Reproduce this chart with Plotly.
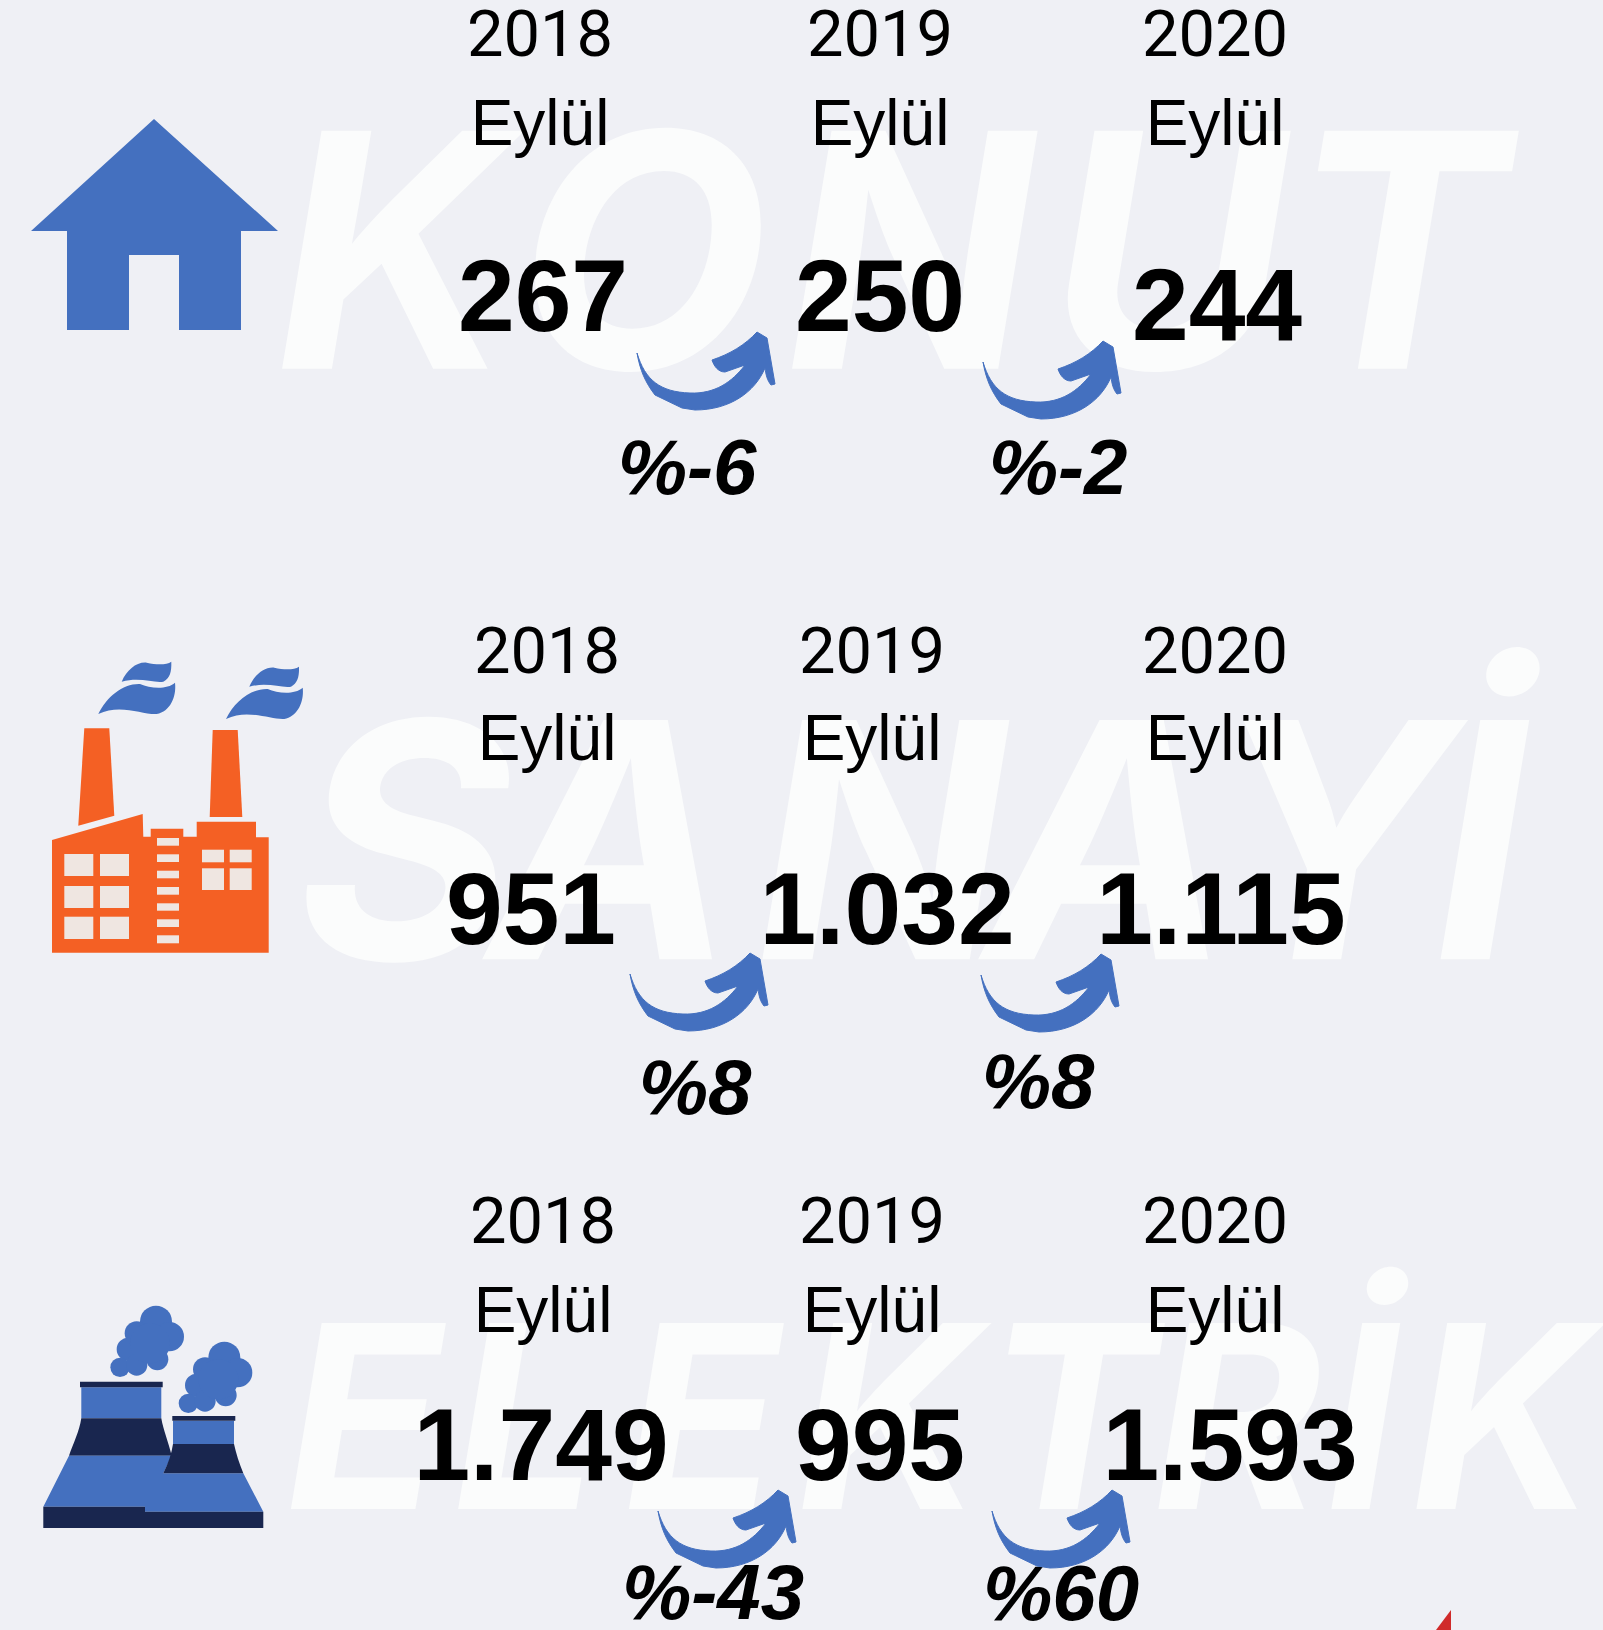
import re
import plotly.graph_objects as go

W, H = 1603, 1630
# ---- content ----
sector_labels = ["KONUT", "SANAYİ", "ELEKTRİK"]
years = ["2018", "2019", "2020"]
month = "Eylül"
konut_values = ["267", "250", "244"]
sanayi_values = ["951", "1.032", "1.115"]
elektrik_values = ["1.749", "995", "1.593"]
konut_change = ["%-6", "%-2"]
sanayi_change = ["%8", "%8"]
elektrik_change = ["%-43", "%60"]

# ---- layout positions (pixels) ----
BLUE, ORANGE, NAVY, CREAM = "#4470bf", "#f46024", "#19264f", "#efe6e1"
letter_x = [[393, 643, 910, 1168, 1397],
            [404, 612, 881, 1108, 1331, 1480],
            [364, 525, 702, 889, 1070, 1237, 1362, 1503]]
word_y = [287, 877, 1445]
word_size = [327, 329, 255]
year_x = [[540, 880, 1215], [547, 872, 1215], [543, 872, 1215]]
year_y = [40, 657, 1227]
month_y = [129, 744, 1316]
value_x = [[543, 880, 1217], [531, 887, 1221], [541, 880, 1230]]
value_y = [[305, 305, 314], [918, 918, 918], [1454, 1454, 1454]]
change_x = [[687, 1058], [695, 1038], [713, 1061]]
change_y = [[474, 474], [1094, 1088], [1599, 1600]]
arrow_origin = [(620, 320), (966, 329), (613, 941), (964, 942), (641, 1478), (975, 1478)]


def tf(path, ox, oy, sx=1 / 3, sy=1 / 3):
    def rep(m):
        return f"{ox + float(m.group(1)) * sx:.1f},{oy + float(m.group(2)) * sy:.1f}"
    return re.sub(r"(-?\d+\.?\d*),(-?\d+\.?\d*)", rep, path)


shapes = []


def add(path, color, ox=0, oy=0, sx=1.0, sy=1.0, lw=0):
    shapes.append(dict(type="path", path=tf(path, ox, oy, sx, sy), fillcolor=color,
                       line=dict(width=lw, color=color), layer="above", xref="x", yref="y"))


def rect(x0, y0, x1, y1, color, ox, oy):
    add(f"M{x0},{y0} L{x1},{y0} L{x1},{y1} L{x0},{y1} Z", color, ox, oy, 1 / 3, 1 / 3)


def circ(cx, cy, r, color, ox, oy):
    shapes.append(dict(type="circle", x0=ox + (cx - r) / 3, x1=ox + (cx + r) / 3,
                       y0=oy + (cy - r) / 3, y1=oy + (cy + r) / 3, fillcolor=color,
                       line=dict(width=0), layer="above", xref="x", yref="y"))


# house
add("M154,119 L278,231 L241,231 L241,330 L179,330 L179,255 L129,255 L129,330 L67,330 L67,231 L31,231 Z", BLUE)

# factory
fx, fy = 30, 640
add("M66,600 L338,522 L340,590 L362,590 L362,566 L460,566 L460,590 L500,590 L500,545 L678,545 L678,592 L716,592 L716,938 L66,938 Z",
    ORANGE, fx, fy, 1 / 3, 1 / 3)
add("M163,265 L238,265 L253,527 L145,557 Z", ORANGE, fx, fy, 1 / 3, 1 / 3)
add("M548,270 L623,270 L637,531 L539,531 Z", ORANGE, fx, fy, 1 / 3, 1 / 3)
for a, b in [(103, 190), (210, 297)]:
    for c, d in [(642, 708), (738, 804), (830, 897)]:
        rect(a, c, b, d, CREAM, fx, fy)
for c, d in [(594, 617), (643, 666), (692, 715), (741, 764), (790, 812), (838, 861), (886, 910)]:
    rect(381, c, 447, d, CREAM, fx, fy)
for a, b in [(516, 582), (599, 665)]:
    for c, d in [(629, 667), (685, 750)]:
        rect(a, c, b, d, CREAM, fx, fy)
smoke_up = "M275,125 C290,90 320,65 350,68 C380,75 410,75 424,65 C425,95 420,115 400,125 C370,130 330,110 275,125 Z"
smoke_lo = "M205,222 C230,170 280,130 330,132 C360,145 410,150 435,128 C440,170 420,215 380,222 C340,225 270,190 205,222 Z"
for dx, dy in [(0, 0), (383, 15)]:
    add(smoke_up, BLUE, fx + dx / 3, fy + dy / 3, 1 / 3, 1 / 3)
    add(smoke_lo, BLUE, fx + dx / 3, fy + dy / 3, 1 / 3, 1 / 3)

# power plant
px, py = 30, 1290
add("M154,292 L394,292 L394,385 L154,385 Z", BLUE, px, py, 1 / 3, 1 / 3)
add("M150,275 L398,275 L398,292 L150,292 Z", NAVY, px, py, 1 / 3, 1 / 3)
add("M154,385 L394,385 C400,420 415,455 425,497 L117,497 C130,460 148,425 154,385 Z", NAVY, px, py, 1 / 3, 1 / 3)
add("M117,497 L425,497 L400,550 L640,550 L700,665 L345,665 L345,650 L40,650 Z", BLUE, px, py, 1 / 3, 1 / 3)
add("M40,650 L345,650 L345,665 L700,665 L700,714 L40,714 Z", NAVY, px, py, 1 / 3, 1 / 3)
add("M429,392 L612,392 L612,462 L429,462 Z", BLUE, px, py, 1 / 3, 1 / 3)
add("M427,378 L616,378 L616,392 L427,392 Z", NAVY, px, py, 1 / 3, 1 / 3)
add("M429,462 L612,462 C618,490 628,520 640,550 L400,550 C415,520 425,490 429,462 Z", NAVY, px, py, 1 / 3, 1 / 3)
for (cx, cy, r) in [(378, 95, 48), (418, 140, 44), (320, 130, 36), (295, 178, 35), (270, 232, 29),
                    (320, 225, 32), (382, 208, 33), (360, 160, 60)]:
    circ(cx, cy, r, BLUE, px, py)
    circ(cx + 205, cy + 108, r, BLUE, px, py)

# arrows
arrow = ("M17,33 C25,60 40,72 70,73 C95,74 112,62 125,45 L105,52 C98,52 94,46 92,40 "
         "C110,34 125,25 137,12 L147,18 L155,64 L151,65 C147,60 146,55 145,48 "
         "C135,72 110,90 75,90 L62,88 L35,75 C25,62 20,50 17,33 Z")
for ox, oy in arrow_origin:
    add(arrow, BLUE, ox, oy, 1, 1, lw=1)

# red corner mark
add("M1451,1610 L1451,1630 L1436,1630 Z", "#d02a2a")

fig = go.Figure()


def texts(xs, ys, labels, size, color="#000000", weight="normal", style="normal", family="Liberation Sans"):
    fig.add_trace(go.Scatter(x=xs, y=ys, text=labels, mode="text", textposition="middle center",
                             textfont=dict(family=family, size=size, color=color, weight=weight, style=style),
                             hoverinfo="skip", showlegend=False, cliponaxis=False))


for lab, xs, y, s in zip(sector_labels, letter_x, word_y, word_size):
    texts(xs, [y] * len(xs), list(lab), s, color="#fbfcfc", style="italic", weight=700, family="Inter")

for i, vals in enumerate([konut_values, sanayi_values, elektrik_values]):
    texts(year_x[i], [year_y[i]] * 3, years, 65, family="Roboto")
    texts(year_x[i], [month_y[i]] * 3, [month] * 3, 64)
    texts(value_x[i], value_y[i], vals, 102, weight="bold")
for i, ch in enumerate([konut_change, sanayi_change, elektrik_change]):
    texts(change_x[i], change_y[i], ch, 78, weight="bold", style="italic")

fig.update_layout(width=W, height=H, margin=dict(l=0, r=0, t=0, b=0), paper_bgcolor="#eff0f5",
                  plot_bgcolor="#eff0f5", shapes=shapes, showlegend=False,
                  xaxis=dict(range=[0, W], visible=False, fixedrange=True),
                  yaxis=dict(range=[H, 0], visible=False, fixedrange=True))
fig.write_html("out.html", config=dict(displayModeBar=False),
               post_script="document.body.style.margin='0';document.body.style.background='#eff0f5';document.body.style.overflow='hidden';")
